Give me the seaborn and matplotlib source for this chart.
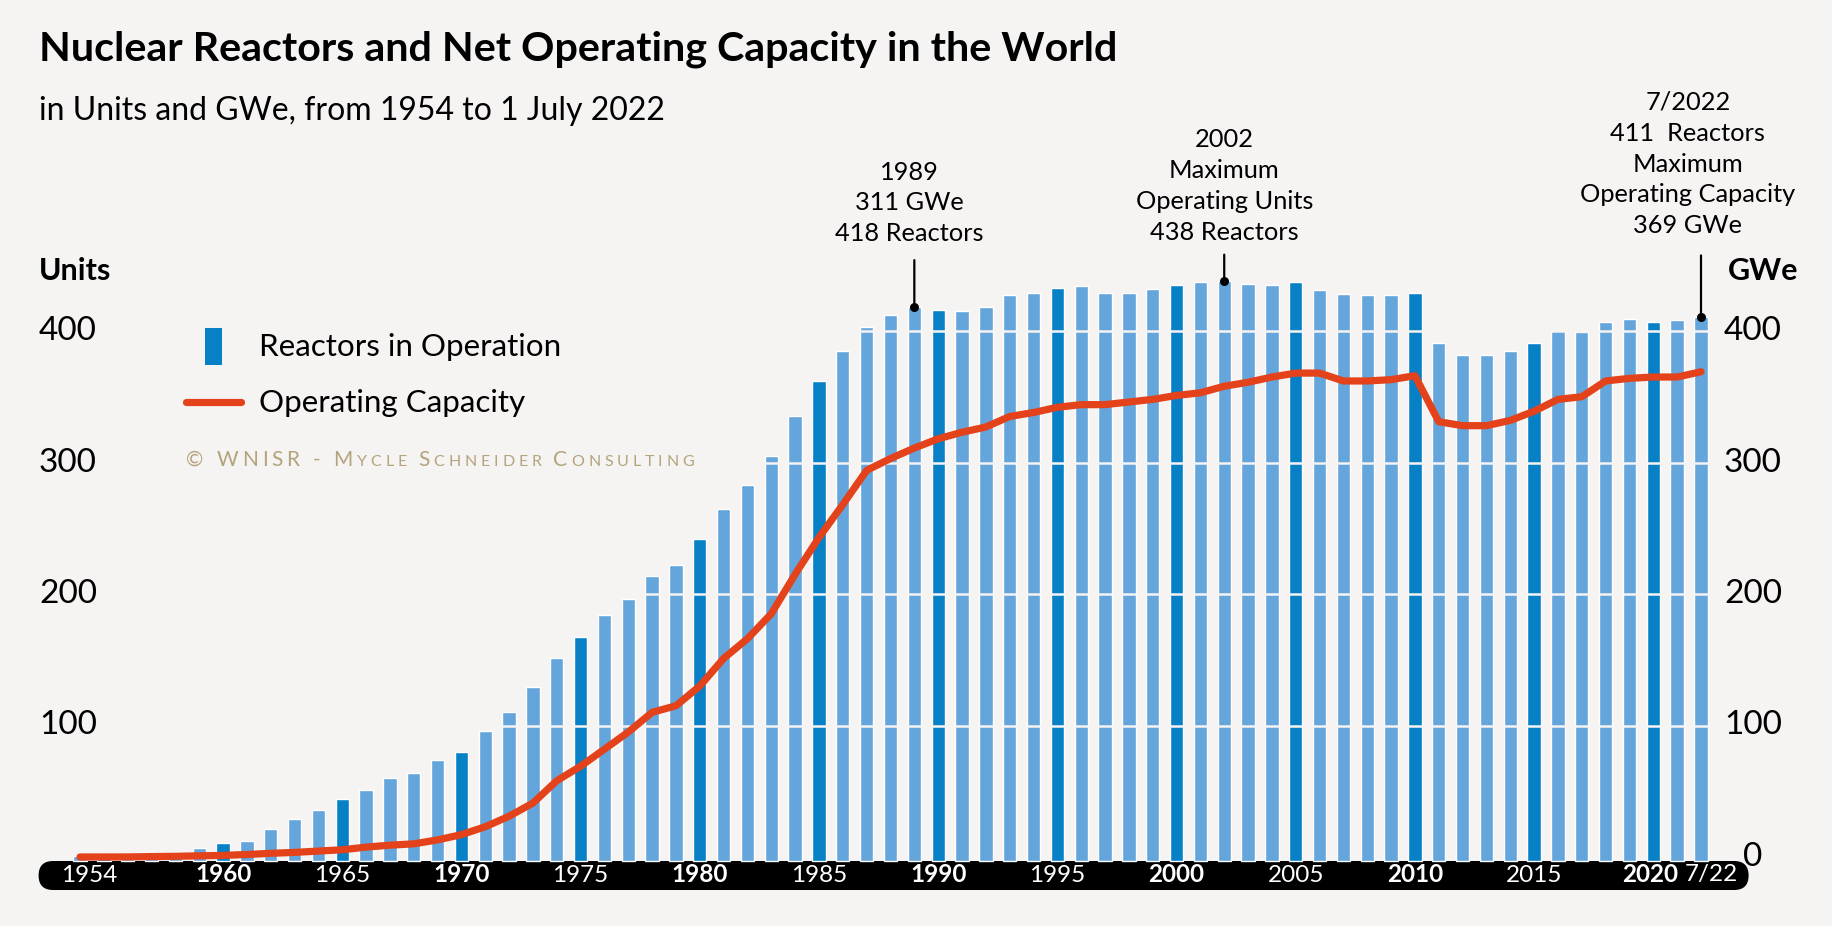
import matplotlib
matplotlib.use("Agg")
import matplotlib.pyplot as plt
import matplotlib.transforms as mtransforms
from matplotlib.patches import FancyBboxPatch, Rectangle
from matplotlib.lines import Line2D
from matplotlib.offsetbox import TextArea, HPacker, AnnotationBbox
import seaborn as sns
import numpy as np
import pandas as pd

# data
years = list(range(1954, 2023))
units = [1, 1, 1, 2, 3, 7, 11, 12, 21, 29,
         36, 44, 51, 60, 64, 74, 80, 96, 110, 129,
         151, 167, 184, 196, 214, 222, 242, 265, 283, 305,
         335, 362, 385, 403, 412, 418, 416, 415, 418, 427,
         429, 433, 434, 429, 429, 432, 435, 437, 438, 436,
         435, 437, 431, 428, 427, 427, 429, 391, 382, 382,
         385, 391, 401, 399, 407, 409, 407, 408, 411]
capacity = [0.005, 0.005, 0.06, 0.3, 0.5, 0.9, 1.2, 1.9, 2.8, 3.5,
            4.5, 5.5, 7.5, 9, 10, 13, 17, 23, 31, 41,
            58, 69, 82, 95, 110, 115, 130, 151, 166, 185,
            215, 243, 268, 294, 303, 311, 318, 323, 327, 335,
            338, 342, 344, 344, 346, 348, 351, 353, 358, 361,
            365, 368, 368, 362, 362, 363, 366, 331, 328, 328,
            332, 339, 348, 350, 362, 364, 365, 365, 369]

band_years = [1954, 1960, 1965, 1970, 1975, 1980, 1985, 1990, 1995,
              2000, 2005, 2010, 2015, 2020, 2022]
band_text = ["1954", "1960", "1965", "1970", "1975", "1980", "1985", "1990",
             "1995", "2000", "2005", "2010", "2015", "2020", "7/22"]
grid_vals = [100, 200, 300, 400]

notes = [
    (1989, "1989\n311 GWe\n418 Reactors"),
    (2002, "2002\nMaximum\nOperating Units\n438 Reactors"),
    (2022, "7/2022\n411  Reactors\nMaximum\nOperating Capacity\n369 GWe"),
]

W, H = 1832, 926
BG = "#F6F3F3"
LIGHT = "#64A6DC"
DARK = "#0880C6"
RED = "#E3421B"
TAN = "#B3A47C"

sns.set_style("white")
plt.rcParams["font.family"] = "Lato"
plt.rcParams["text.color"] = "black"

fig = plt.figure(figsize=(W / 100, H / 100), dpi=100, facecolor=BG)
ax = fig.add_axes([65.7 / W, (H - 857) / H, 1649.6 / W, 578.6 / H])
ax.set_facecolor(BG)

df = pd.DataFrame({"year": years, "units": units, "capacity": capacity})
df["shade"] = np.where(df["year"] % 5 == 0, "dark", "light")

sns.barplot(data=df, x="year", y="units", hue="shade",
            palette={"dark": DARK, "light": LIGHT}, width=0.56, saturation=1,
            dodge=False, legend=False, ax=ax, zorder=2)
# let the bars run down to the black year band
for p in ax.patches:
    p.set_y(-3)
    p.set_height(p.get_height() + 3)
    p.set_clip_on(False)

# gaps across the bars (same colour as the background)
for g in grid_vals:
    ax.axhline(g, color=BG, lw=1.8, zorder=3)

sns.lineplot(x=np.arange(len(years)), y=df["capacity"], ax=ax, color=RED,
             lw=5.2, zorder=4)
ln = ax.lines[-1]
ln.set_clip_on(False)
ln.set_solid_capstyle("round")
ln.set_solid_joinstyle("round")

ax.set_xlim(-0.6, len(years) - 0.4)
ax.set_ylim(0, 440)
ax.axis("off")

px = mtransforms.IdentityTransform()
xdata_ypx = mtransforms.blended_transform_factory(ax.transData, px)
xpx_ydata = mtransforms.blended_transform_factory(px, ax.transData)

# titles
fig.text(38.6, H - 60.8, "Nuclear Reactors and Net Operating Capacity in the World",
         transform=px, fontsize=29.7, fontweight="bold", va="baseline")
fig.text(38.6, H - 120.3, "in Units and GWe, from 1954 to 1 July 2022",
         transform=px, fontsize=23, va="baseline")

# axis captions and tick labels
fig.text(39, H - 280.4, "Units", transform=px, fontsize=22, fontweight="bold",
         va="baseline")
fig.text(1728, H - 280.4, "GWe", transform=px, fontsize=22, fontweight="bold",
         va="baseline")
for v in grid_vals:
    ax.text(39, v, str(v), transform=xpx_ydata, fontsize=24,
            ha="left", va="center")
for v in [0] + grid_vals:
    ax.text(1753, v, str(v), transform=xpx_ydata, fontsize=24,
            ha="center", va="center")

# black rounded year band
band = FancyBboxPatch((38.6, H - 890), 1710, 29,
                      boxstyle="round,pad=0,rounding_size=14.5",
                      transform=px, facecolor="black", edgecolor="none",
                      zorder=-1)
fig.patches.append(band)
label_shift = {1954: 0.4, 2020: -0.15, 2022: 0.45}
for yr, lab in zip(band_years, band_text):
    i = years.index(yr)
    bold = yr % 10 == 0
    ax.text(i + label_shift.get(yr, 0), H - 875, lab, transform=xdata_ypx,
            color="white", fontsize=17.5,
            fontweight="bold" if bold else "normal",
            ha="center", va="center", zorder=6)

# legend
fig.patches.append(Rectangle((205, H - 365), 17, 37, transform=px,
                             facecolor=DARK, edgecolor="none"))
fig.lines.append(Line2D([186, 241], [H - 402, H - 402], transform=px,
                        color=RED, lw=5.2, solid_capstyle="round"))
fig.text(259, H - 346.7, "Reactors in Operation", transform=px, fontsize=22.6,
         va="center")
fig.text(259, H - 403, "Operating Capacity", transform=px, fontsize=22.6,
         va="center")

# copyright line in small caps
credit = [("© WNISR - M", 15), ("YCLE ", 11.5), ("S", 15), ("CHNEIDER ", 11.5),
          ("C", 15), ("ONSULTING", 11.5)]
chars = []
for part, size in credit:
    for ch in part:
        chars.append(TextArea(ch, textprops=dict(fontsize=size, color=TAN)))
pack = HPacker(children=chars, align="baseline", pad=0, sep=2.8)
ab = AnnotationBbox(pack, (186, H - 460), xycoords="figure pixels",
                    box_alignment=(0, 0.5), frameon=False)
fig.add_artist(ab)

# annotations
note_style = [(-0.2, 723, 34), (0, 740, 19), (-0.55, 762, 44)]
for (yr, txt), (dx, ty, L) in zip(notes, note_style):
    i = years.index(yr)
    v = units[i]
    ax.annotate("", xy=(i, v), xytext=(0, L), textcoords="offset points",
                arrowprops=dict(arrowstyle="-", lw=1.6, color="black",
                                shrinkA=0, shrinkB=0), annotation_clip=False)
    ax.scatter([i], [v], s=30, color="black", zorder=6, clip_on=False)
    ax.text(i + dx, ty, txt, transform=xdata_ypx, fontsize=18.3,
            ha="center", va="center", linespacing=1.42)

fig.savefig("out.png", dpi=100, facecolor=BG)
